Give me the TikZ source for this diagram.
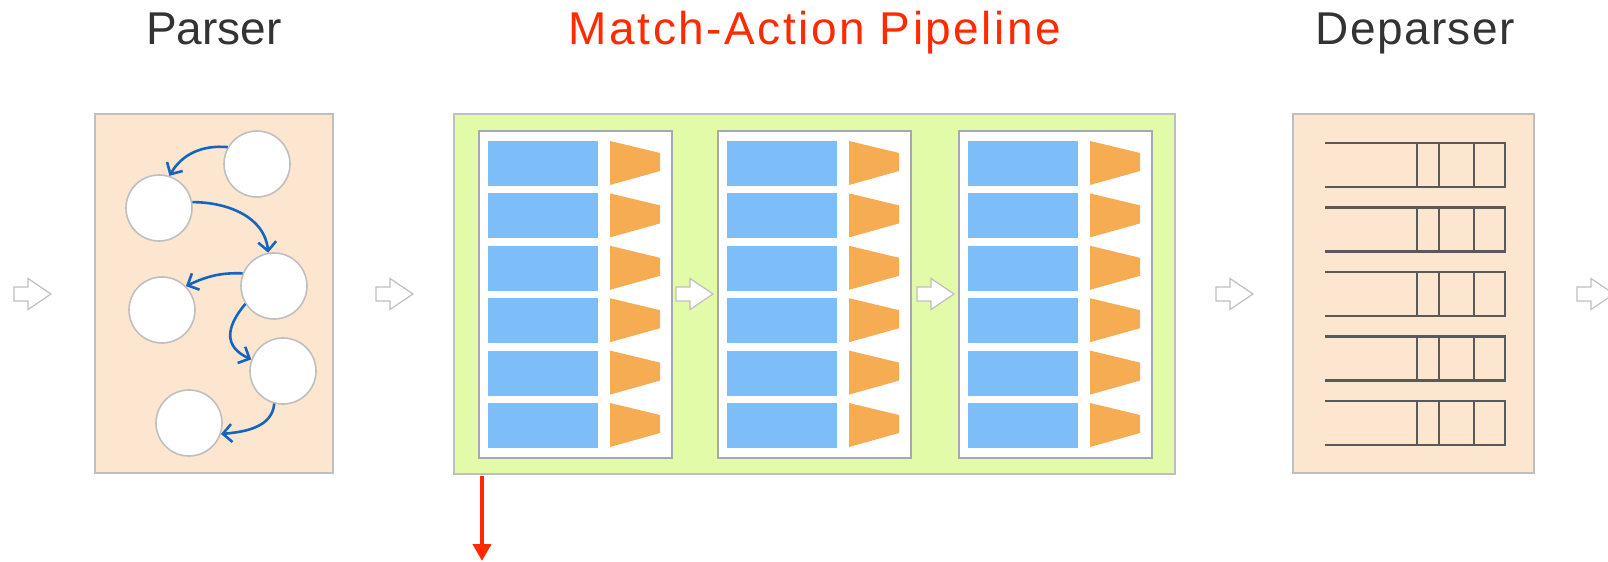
\documentclass[tikz,border=0pt]{standalone}
\usepackage{fontspec}
\setmainfont{Liberation Sans}
\usetikzlibrary{arrows.meta,positioning}

\definecolor{peach}{HTML}{FDE6D0}
\definecolor{lime}{HTML}{E1FBA8}
\definecolor{boxgray}{HTML}{BFBFBF}
\definecolor{stagegray}{HTML}{A8A8A8}
\definecolor{edgeblue}{HTML}{1565C0}
\definecolor{matchblue}{HTML}{7DBDF8}
\definecolor{actorange}{HTML}{F5AC53}
\definecolor{fieldgray}{HTML}{595959}
\definecolor{titlegray}{HTML}{333333}
\definecolor{titlered}{HTML}{FF2A00}

\tikzset{
  title/.style={anchor=base, font=\fontsize{23}{26}\selectfont, text=titlegray},
  state/.style={circle, draw=boxgray, fill=white, line width=0.8pt,
    minimum size=33pt, inner sep=0pt},
  trans/.style={draw=edgeblue, line width=1.3pt,
    -{Straight Barb[length=4.5pt,width=9pt]}},
  blockarr/.style={draw=boxgray, fill=white, line width=0.6pt, line join=miter},
  fieldline/.style={draw=fieldgray, line width=1.4pt, line join=miter},
}

% hollow block arrow, left end at (#1,#2)
\newcommand{\flowarrow}[2]{%
  \draw[blockarr] (#1,#2) ++(0,-7) -- ++(14,0) -- ++(0,-8.5) -- ++(23,15.5)
    -- ++(-23,15.5) -- ++(0,-8.5) -- ++(-14,0) -- cycle;}

\begin{document}
\begin{tikzpicture}[x=0.5pt, y=-0.5pt]
  \clip (0,0) rectangle (1608,562);
  \useasboundingbox (0,0) rectangle (1608,562);

  % titles
  \node[title] (ptitle) at (214,45) {Parser};
  \node[title, text=titlered] (mtitle) at (815,45)
    {\addfontfeature{LetterSpace=5.4}Match-Action Pipeline};
  \node[title] (dtitle) at (1415,45) {\addfontfeature{LetterSpace=3}Deparser};

  % parser
  \draw[fill=peach, draw=boxgray, line width=1pt] (95,114) rectangle (333,473);
  \node[state] (c1) at (257,164) {};
  \node[state] (c2) at (159,208) {};
  \node[state] (c3) at (274,286) {};
  \node[state] (c4) at (162,310) {};
  \node[state] (c5) at (283,371) {};
  \node[state] (c6) at (189,423) {};

  \draw[trans] (c1.150) to[out=175, in=60] (c2.72);
  \draw[trans] (c2.10) to[out=0, in=95] (c3.100);
  \draw[trans] (c3.158) to[out=178, in=25] (c4.45);
  \draw[trans] (c3.212) to[out=230, in=155, looseness=1.4] (c5.160);
  \draw[trans] (c5.255) to[out=265, in=5] (c6.341);

  % match-action pipeline
  \draw[fill=lime, draw=boxgray, line width=1pt] (454,114) rectangle (1175,474);
  \foreach \sx in {479,718,959}{
    \draw[fill=white, draw=stagegray, line width=1pt] (\sx,131) rectangle ++(193,327);
    \foreach \r in {0,...,5}{
      \pgfmathsetmacro\ry{141+52.4*\r}
      \fill[matchblue] ({\sx+9},\ry) rectangle ++(110,45);
      \fill[actorange] ({\sx+131},\ry) -- ++(50,12) -- ++(0,18) -- ++(-50,14) -- cycle;
    }
  }
  \flowarrow{676}{294}
  \flowarrow{917}{294}

  \coordinate (tapout) at (482,476);
  \coordinate (tapend) at (482,561);
  \draw[titlered, line width=2pt, -{Triangle[length=8.5pt,width=9pt]}] (tapout) -- (tapend);

  % deparser
  \draw[fill=peach, draw=boxgray, line width=1pt] (1293,114) rectangle (1534,473);
  \foreach \r in {0,...,4}{
    \pgfmathsetmacro\dy{143+64.5*\r}
    \draw[fieldline] (1325,\dy) -- (1505,\dy) -- ({1505},{\dy+44}) -- ({1325},{\dy+44});
    \foreach \dx in {1417,1439,1474}
      \draw[fieldline] (\dx,\dy) -- ++(0,44);
  }

  % flow between blocks
  \flowarrow{14}{294}
  \flowarrow{376}{294}
  \flowarrow{1216}{294}
  \flowarrow{1577}{294}
\end{tikzpicture}
\end{document}
